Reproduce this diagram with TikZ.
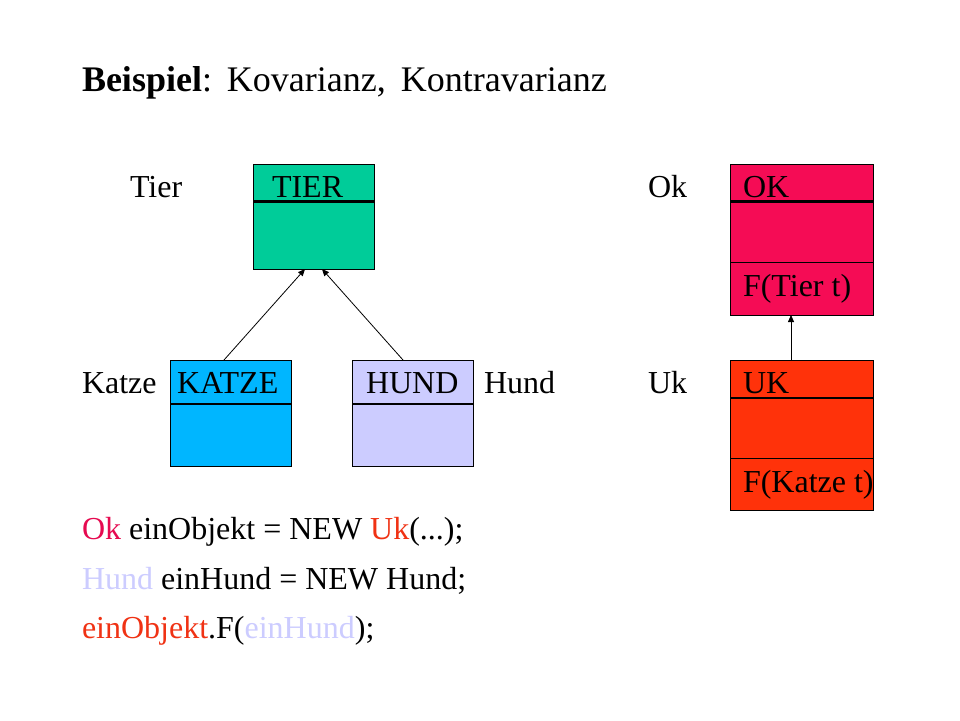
\documentclass[tikz,border=0pt]{standalone}
\usepackage{fontspec}
\setmainfont{Liberation Serif}
\usetikzlibrary{arrows.meta,calc}
\definecolor{tiercol}{RGB}{0,204,153}
\definecolor{katzecol}{RGB}{0,182,255}
\definecolor{hundcol}{RGB}{204,204,255}
\definecolor{okcol}{RGB}{245,12,85}
\definecolor{ukcol}{RGB}{255,50,10}
\definecolor{txtok}{RGB}{230,10,80}
\definecolor{txtuk}{RGB}{240,50,20}
\begin{document}
\begin{tikzpicture}[x=1pt,y=-1pt,
  box/.style={draw=black,line width=0.9pt,anchor=north west,inner sep=0pt,outer sep=0pt},
  lbl/.style={anchor=base west,inner sep=0pt,outer sep=0pt,font=\fontsize{32}{38}\selectfont},
  sep/.style={line width=2.6pt},
  thin/.style={line width=0.8pt},
  arr/.style={line width=0.8pt,-{Triangle[length=7pt,width=6pt]}}]
\useasboundingbox[fill=white] (0,0) rectangle (960,720);
% title
\node[lbl,font=\fontsize{36}{42}\selectfont] (title) at (82,91) {\textbf{Beispiel}: \hspace{3pt}Kovarianz, \hspace{6pt}Kontravarianz};
% boxes
\node[box,fill=tiercol,minimum width=121pt,minimum height=105pt] (tier) at (253,164) {};
\node[box,fill=katzecol,minimum width=121pt,minimum height=106pt] (katze) at (170,360) {};
\node[box,fill=hundcol,minimum width=121pt,minimum height=106pt] (hund) at (352,360) {};
\node[box,fill=okcol,minimum width=143pt,minimum height=151pt] (ok) at (730,164) {};
\node[box,fill=ukcol,minimum width=143pt,minimum height=150pt] (uk) at (730,360) {};
% separators
\draw[sep] ($(tier.north west)+(0,37.5)$) -- ($(tier.north east)+(0,37.5)$);
\draw[sep] ($(katze.north west)+(0,44)$) -- ($(katze.north east)+(0,44)$);
\draw[sep] ($(hund.north west)+(0,44)$) -- ($(hund.north east)+(0,44)$);
\draw[sep] ($(ok.north west)+(0,37.5)$) -- ($(ok.north east)+(0,37.5)$);
\draw[thin] ($(ok.north west)+(0,98.5)$) -- ($(ok.north east)+(0,98.5)$);
\draw[sep] ($(uk.north west)+(0,38)$) -- ($(uk.north east)+(0,38)$);
\draw[thin] ($(uk.north west)+(0,98)$) -- ($(uk.north east)+(0,98)$);
% labels in boxes
\node[lbl] (tiert) at (272,197) {TIER};
\node[lbl] (katzet) at (177,393) {KATZE};
\node[lbl] (hundt) at (366,393) {HUND};
\node[lbl] (okt) at (743,197) {OK};
\node[lbl] (okf) at (743,296) {F(Tier t)};
\node[lbl] (ukt) at (743,393) {UK};
\node[lbl] (ukf) at (743,492) {F(Katze t)};
% side labels
\node[lbl] (tierl) at (130,197) {Tier};
\node[lbl] (katzel) at (82,393) {Katze};
\node[lbl] (hundl) at (484,393) {Hund};
\node[lbl] (okl) at (648,197) {Ok};
\node[lbl] (ukl) at (648,393) {Uk};
% arrows
\coordinate (ka) at ($(katze.north west)+(54,0)$);
\coordinate (ta) at ($(tier.south west)+(52,0)$);
\coordinate (ha) at ($(hund.north west)+(51,0)$);
\coordinate (tb) at ($(tier.south west)+(69,0)$);
\draw[arr] (ka) -- (ta);
\draw[arr] (ha) -- (tb);
\coordinate (ua) at ($(uk.north west)+(61,0)$);
\coordinate (oa) at ($(ok.south west)+(61,0)$);
\draw[arr] (ua) -- (oa);
% code
\node[lbl] (c1) at (82,539) {\textcolor{txtok}{Ok} einObjekt = NEW \textcolor{txtuk}{Uk}(...);};
\node[lbl] (c2) at (82,589) {\textcolor{hundcol}{Hund} einHund = NEW Hund;};
\node[lbl] (c3) at (82,638) {\textcolor{txtuk}{einObjekt}.F(\textcolor{hundcol}{einHund});};
\end{tikzpicture}
\end{document}
